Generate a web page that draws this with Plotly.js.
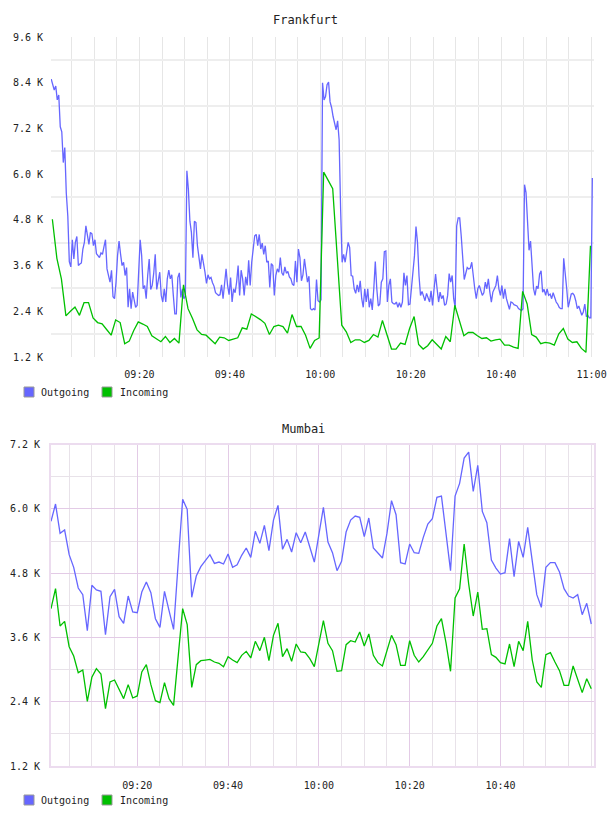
<!DOCTYPE html>
<html>
<head>
<meta charset="utf-8">
<script src="https://cdn.plot.ly/plotly-3.0.1.min.js"></script>
<style>
html,body{margin:0;padding:0;background:#fff;}
#chart{width:608px;height:816px;}
</style>
</head>
<body>
<div id="chart"></div>
<script>
// ---------------- DATA ----------------
const DAY = '2024-01-01';
const seriesNames = ['Outgoing', 'Incoming'];
const seriesColors = ['#6666ff', '#00c000'];
const chartTitles = ['Frankfurt', 'Mumbai'];

// Frankfurt Outgoing: samples every 20 s starting 09:00:30
const fraOutStart = '09:00:30';
const fraOutStepSec = 20;
const fraOutgoing = [
8496,8350,8209,8313,7948,8078,7243,7113,6304,6696,
5500,4900,3700,3565,4278,3774,4209,4365,3600,3640,
3670,4035,4209,4643,4400,4157,4470,4435,4122,4278,
3913,3860,3809,3931,3896,4100,4278,3513,3350,3165,
3478,2783,2730,3165,3861,4243,3900,3600,3687,3339,
3548,2504,2991,2469,2904,2643,2504,2556,3339,4278,
3861,2991,3078,2730,3339,3774,2974,3078,3400,3896,
2974,3165,3426,2817,2643,2991,2643,3252,3478,3252,
3357,2817,2330,2330,3287,3409,2765,2991,2730,2800,
6087,5600,4765,4470,3809,4765,4730,4122,3843,3513,
3896,3687,3426,3130,3357,3252,3287,3148,3061,2887,
2852,2817,2835,3096,2730,3043,3513,3078,2835,3287,
2643,2991,2887,3165,3600,2817,3478,3252,2817,3304,
3078,3739,3078,3687,4035,4383,4417,4122,4417,4035,
4191,3896,4122,3687,3722,3026,3652,3600,2817,3339,
3513,3426,3809,3409,3339,3565,3400,3443,3304,3252,
3113,3078,3722,3165,4035,3809,3200,3357,3774,3426,
3165,3322,2469,2435,2469,2435,3235,2678,2643,2700,
8400,7948,8035,8348,8417,7896,7750,7513,7300,7165,
7400,6904,5078,3687,3896,3687,3950,4209,4070,3339,
3322,2991,2870,3096,2904,3200,2730,2504,2991,2643,
2991,2504,2730,2435,2991,3704,2991,2539,2591,3165,
3252,3965,3983,2643,3078,3250,2643,2600,2591,2643,
2504,2626,2504,2643,3409,3078,3339,2574,2591,2991,
3339,3861,4626,4209,3339,2817,2922,2800,2678,2870,
2730,2643,2939,2556,2991,3374,2991,2643,2904,2730,
2817,2556,2591,2817,3391,3165,3339,2730,2504,4643,
4852,4852,4383,3861,3235,3391,3548,3513,3530,3687,
3252,2991,2730,2991,3078,2904,2817,2887,3165,2991,
3252,2904,2643,2904,3000,3078,3339,2991,2817,3078,
2730,2991,2730,2609,2452,2643,2626,2574,2560,2539,
2469,2452,2417,2469,5722,5513,4557,4000,4243,3600,
2991,2817,3061,2991,3374,3461,2904,2974,2817,2991,
2817,2852,2730,2887,2730,2643,2591,2504,2469,2469,
3791,3426,2991,2504,2730,2852,2870,2817,2678,2469,
2539,2417,2296,2383,2591,2278,2296,2226,2226,5896
];

// Frankfurt Incoming: samples every 60 s starting 09:00:45
const fraInStart = '09:00:45';
const fraInStepSec = 60;
const fraIncoming = [
4817,3790,3252,2279,2400,2513,2294,2626,2626,2226,
2104,2070,1921,1772,2174,2104,1548,1616,1895,2122,
2065,2000,1757,1686,1600,1739,1582,1686,1564,3095,
2469,2208,1913,1791,1773,1660,1548,1720,1704,1634,
1660,1704,1965,1929,2331,2260,2182,2085,1791,2000,
2035,2000,1825,2313,2000,2000,1772,1426,1634,1700,
6052,5835,5617,3826,2035,1861,1582,1652,1652,1582,
1634,1791,1722,2157,1774,1409,1409,1565,1530,1948,
2261,1530,1409,1496,1652,1530,1409,1739,1600,2557,
2174,1757,1843,1843,1757,1687,1704,1617,1652,1669,
1513,1513,1461,1426,2922,2591,1791,1722,1548,1582,
1565,1513,1808,1948,1669,1582,1600,1426,1322,4122
];

// Mumbai: samples every 60 s starting 09:01:00
const mumStart = '09:01:00';
const mumStepSec = 60;
const mumOutgoing = [
5769,6092,5544,5607,5146,4910,4524,4399,3727,4574,
4487,4462,3652,4362,4499,3988,3864,4374,4076,4063,
4449,4636,4437,3951,3789,4462,4100,3752,4972,6179,
5993,4350,4748,4922,5034,5146,4984,5009,4972,5159,
4910,4959,5134,5271,5096,5582,5358,5694,5221,5793,
6067,5246,5432,5196,5557,5370,5569,5271,5009,5520,
6030,5383,5183,4847,5022,5569,5793,5868,5843,5482,
5831,5271,5183,5084,5544,6154,5893,4997,4972,5345,
5183,5171,5470,5719,5818,6217,6241,5544,4847,6241,
6478,6951,7062,6328,6814,5955,5744,5047,4897,4785,
4810,5445,4735,5395,5096,5656,5034,4399,4163,4910,
4997,4997,4822,4511,4374,4337,4399,4026,4238,3852
];
const mumIncoming = [
4138,4511,3814,3901,3428,3254,2943,2993,2408,2856,
3018,2918,2271,2769,2806,2632,2458,2719,2470,2508,
2956,3092,2719,2420,2383,2756,2458,2333,3200,4138,
3839,2669,3092,3167,3179,3192,3142,3117,3055,3242,
3179,3130,3267,3341,3217,3528,3354,3603,3167,3640,
3864,3242,3391,3155,3478,3329,3316,3204,3055,3478,
3914,3491,3354,2968,2981,3466,3540,3515,3702,3441,
3665,3267,3130,3068,3341,3640,3466,3080,3080,3540,
3267,3142,3242,3366,3491,3814,3951,3503,2968,4337,
4511,5346,4598,4001,4449,3752,3764,3279,3229,3130,
3105,3478,3055,3528,3354,3901,3179,2769,2669,3279,
3316,3142,2981,2707,2707,3068,2819,2570,2831,2644
];

// Axis ticks
const fraXTicks = ['09:20','09:40','10:00','10:20','10:40','11:00'];
const mumXTicks = ['09:20','09:40','10:00','10:20','10:40'];
const fraYTicks = [1200,2400,3600,4800,6000,7200,8400,9600];
const fraYGrid  = [1800,3000,4200,5400,6600,7800,9000];
const mumYTicks = [1200,2400,3600,4800,6000,7200];
const mumYMinor = [1800,3000,4200,5400,6600];
const fraXRange = ['09:00:27','11:00:32'];
const mumXRange = ['09:01:00','11:00:36'];

// ---------------- HELPERS ----------------
function pad(n){return (n<10?'0':'')+n;}
function toSec(hms){const p=hms.split(':').map(Number);return p[0]*3600+p[1]*60+(p[2]||0);}
function fmt(sec){sec=Math.round(sec);return DAY+' '+pad(Math.floor(sec/3600))+':'+pad(Math.floor(sec%3600/60))+':'+pad(sec%60);}
function times(start, step, n){const s=toSec(start);const out=[];for(let i=0;i<n;i++)out.push(fmt(s+i*step));return out;}
function d(hm){return fmt(toSec(hm));}
function kLabel(v){return (v/1000).toFixed(1)+' K';}

const W=608,H=816;
const px=x=>x/W, py=y=>1-y/H;

const MONO='"DejaVu Sans Mono", "Liberation Mono", monospace';
const tickFont={family:MONO,size:10,color:'#222'};

const traces=[
 {x:times(fraOutStart,fraOutStepSec,fraOutgoing.length),y:fraOutgoing,xaxis:'x',yaxis:'y',mode:'lines',name:seriesNames[0],line:{color:seriesColors[0],width:1.3},hoverinfo:'skip'},
 {x:times(fraInStart,fraInStepSec,fraIncoming.length),y:fraIncoming,xaxis:'x',yaxis:'y',mode:'lines',name:seriesNames[1],line:{color:seriesColors[1],width:1.3},hoverinfo:'skip'},
 {x:times(mumStart,mumStepSec,mumOutgoing.length),y:mumOutgoing,xaxis:'x2',yaxis:'y2',mode:'lines',name:seriesNames[0],line:{color:seriesColors[0],width:1.3},hoverinfo:'skip'},
 {x:times(mumStart,mumStepSec,mumIncoming.length),y:mumIncoming,xaxis:'x2',yaxis:'y2',mode:'lines',name:seriesNames[1],line:{color:seriesColors[1],width:1.3},hoverinfo:'skip'}
];

const xDom=[px(51),px(594)];
const fraGrid='#e6e6e6';
const mumMajor='#e3cbe6';
const mumMinor='#e8e2e9';

const layout={
 width:W,height:H,margin:{l:0,r:0,t:0,b:0},
 paper_bgcolor:'#fff',plot_bgcolor:'#fff',showlegend:false,hovermode:false,
 xaxis:{domain:xDom,anchor:'y',type:'date',range:fraXRange.map(d),
   tickmode:'array',tickvals:fraXTicks.map(d),ticktext:fraXTicks,
   showgrid:true,gridcolor:fraGrid,gridwidth:1,zeroline:false,showline:false,ticks:'',
   ticklabelstandoff:10,tickfont:tickFont,
   minor:{tickmode:'linear',tick0:d('09:00:00'),dtick:300000,showgrid:true,gridcolor:fraGrid,gridwidth:1,ticks:''}},
 yaxis:{domain:[py(357),py(37)],anchor:'x',range:[1200,9600],
   tickmode:'array',tickvals:fraYTicks,ticktext:fraYTicks.map(kLabel),
   showgrid:false,zeroline:false,showline:false,ticks:'',ticklabelstandoff:7,tickfont:tickFont,
   minor:{tickmode:'array',tickvals:fraYGrid,showgrid:true,gridcolor:'#eeeeee',gridwidth:2,ticks:''}},
 xaxis2:{domain:xDom,anchor:'y2',type:'date',range:mumXRange.map(d),
   tickmode:'array',tickvals:mumXTicks.map(d),ticktext:mumXTicks,
   showgrid:true,gridcolor:mumMajor,gridwidth:1,zeroline:false,
   showline:true,mirror:true,linecolor:'#ecdcef',linewidth:2,ticks:'',
   ticklabelstandoff:9,tickfont:tickFont,
   minor:{tickmode:'linear',tick0:d('09:00:00'),dtick:300000,showgrid:true,gridcolor:mumMinor,gridwidth:1,ticks:''}},
 yaxis2:{domain:[py(766),py(444.7)],anchor:'x2',range:[1200,7200],
   tickmode:'array',tickvals:mumYTicks,ticktext:mumYTicks.map(kLabel),
   showgrid:true,gridcolor:mumMajor,gridwidth:1,zeroline:false,
   showline:true,mirror:true,linecolor:'#ecdcef',linewidth:2,ticks:'',ticklabelstandoff:7,tickfont:tickFont,
   minor:{tickmode:'array',tickvals:mumYMinor,showgrid:true,gridcolor:mumMinor,gridwidth:1,ticks:''}},
 annotations:[],
 shapes:[]
};

// titles
[[chartTitles[0],305,20],[chartTitles[1],303,429]].forEach(([t,x,y])=>{
 layout.annotations.push({text:t,xref:'paper',yref:'paper',x:px(x),y:py(y),xanchor:'center',yanchor:'middle',showarrow:false,font:{family:MONO,size:12,color:'#222'}});
});

// custom legends (square swatches)
[392,800].forEach(cy=>{
 const items=[[24,39],[102,118]];
 items.forEach(([sx,tx],i)=>{
   layout.shapes.push({type:'rect',xref:'paper',yref:'paper',x0:px(sx),x1:px(sx+10),y0:py(cy+5),y1:py(cy-5),fillcolor:seriesColors[i],line:{color:'#999',width:1}});
   layout.annotations.push({text:seriesNames[i],xref:'paper',yref:'paper',x:px(tx),y:py(cy),xanchor:'left',yanchor:'middle',showarrow:false,font:{family:MONO,size:10,color:'#222'}});
 });
});

Plotly.newPlot('chart',traces,layout,{displayModeBar:false,staticPlot:true});
</script>
</body>
</html>
